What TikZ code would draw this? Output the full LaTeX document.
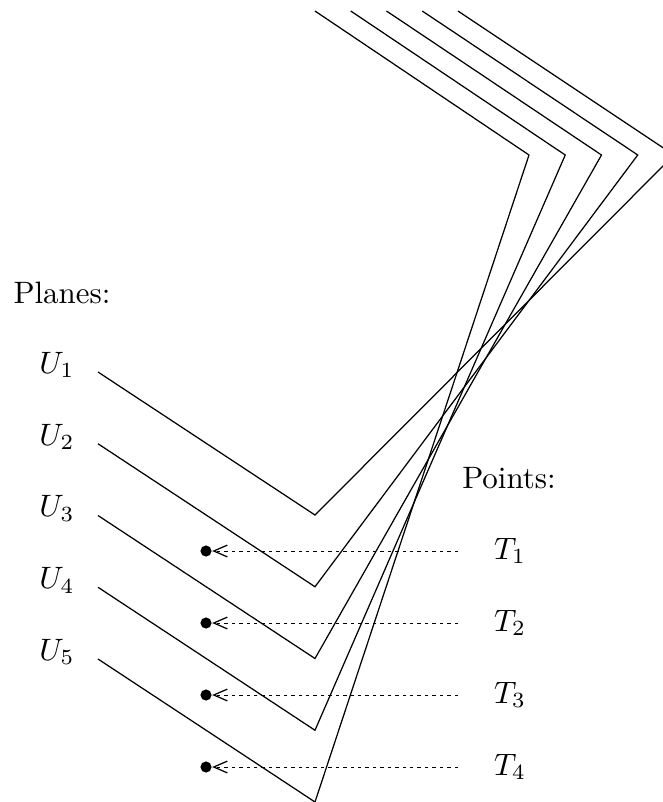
\documentclass[tikz,border=0pt]{standalone}
\usetikzlibrary{arrows.meta}
\begin{document}
\begin{tikzpicture}[
  x=0.323pt, y=-0.323pt,
  plane/.style={line width=0.4pt, line join=miter},
  hit/.style={circle, fill=black, inner sep=0pt, minimum size=3.6pt},
  ray/.style={line width=0.3pt, dash pattern=on 1.1pt off 1.3pt, -{Straight Barb[length=4.4pt,width=3.8pt,line width=0.4pt]}},
  lbl/.style={inner sep=0pt}
]
  \useasboundingbox (0,0) rectangle (663,802);
  \node[lbl] (planes) at (62,293) {Planes:};
  \node[lbl] (points) at (509,478) {Points:};
  % the five planes, seen edge-on
  \begin{scope}
    \clip (0,0) rectangle (663,802);
    \foreach \i in {1,...,5} {
      \pgfmathsetmacro{\yl}{372+71.75*(\i-1)}
      \pgfmathsetmacro{\yb}{515+71.75*(\i-1)}
      \pgfmathsetmacro{\xv}{674-36.25*(\i-1)}
      \pgfmathsetmacro{\xe}{458-35.75*(\i-1)}
      \coordinate (pl\i) at (98,\yl);
      \coordinate (pb\i) at (315,\yb);
      \coordinate (pv\i) at (\xv,155);
      \coordinate (pe\i) at (\xe,11);
      \draw[plane] (pl\i) -- (pb\i) -- (pv\i) -- (pe\i);
    }
  \end{scope}
  \foreach \i in {1,...,5} {
    \pgfmathsetmacro{\yu}{365+71.75*(\i-1)}
    \node[lbl] (u\i) at (57,\yu) {$U_{\i}$};
  }
  % points and their projections
  \foreach \j in {1,...,4} {
    \pgfmathsetmacro{\yp}{551+72*(\j-1)}
    \node[lbl] (t\j) at (510,\yp) {$T_{\j}$};
    \node[hit] (dot\j) at (206,\yp) {};
    \coordinate (src\j) at (458,\yp);
    \draw[ray] (src\j) -- (dot\j);
  }
\end{tikzpicture}
\end{document}
